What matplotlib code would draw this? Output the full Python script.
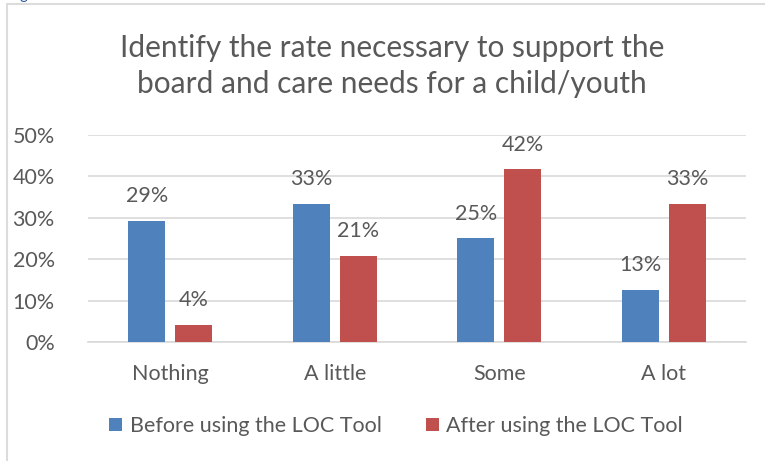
import matplotlib.pyplot as plt
import numpy as np
from matplotlib.patches import Rectangle
from matplotlib.ticker import FuncFormatter

categories = ["Nothing", "A little", "Some", "A lot"]
before = [29.2, 33.3, 25.0, 12.5]
after = [4.2, 20.8, 41.7, 33.3]
series_names = ["Before using the LOC Tool", "After using the LOC Tool"]
title = "Identify the rate necessary to support the\nboard and care needs for a child/youth"

blue = "#4F81BD"
red = "#C0504D"
textGray = "#595959"
gridGray = "#D9D9D9"

plt.rcParams['font.family'] = ['Lato', 'DejaVu Sans']

W, H = 765, 461
fig = plt.figure(figsize=(W / 100, H / 100), dpi=100)

# chart border (only top and left visible in the crop)
fig.add_artist(Rectangle((7 / W, -0.1), 1.2, (H - 4) / H + 0.1, transform=fig.transFigure,
                         fill=False, edgecolor="#DCDCDC", linewidth=1.5))
# descender of the cut-off caption above the chart
fig.text(20 / W, 1 + 1 / H, "g", color="#2F5597", fontsize=11, va="baseline")

ax = fig.add_axes([88 / W, 1 - 342 / H, (746 - 88) / W, (342 - 135) / H])
x = np.arange(len(categories))
bw = 0.225
off = 0.143
b1 = ax.bar(x - off, before, bw, color=blue, label=series_names[0], zorder=3)
b2 = ax.bar(x + off, after, bw, color=red, label=series_names[1], zorder=3)

for bars, vals in [(b1, before), (b2, after)]:
    for rect, v in zip(bars, vals):
        ax.text(rect.get_x() + rect.get_width() / 2, v + 6.0, f"{int(v + 0.5)}%",
                ha="center", va="center", fontsize=15.5, color=textGray)

ax.set_xlim(-0.5, 3.5)
ax.set_ylim(0, 50)
ax.set_yticks(np.arange(0, 51, 10))
ax.yaxis.set_major_formatter(FuncFormatter(lambda v, p: f"{v:.0f}%"))
ax.set_xticks(x, categories)
ax.grid(axis="y", color=gridGray, linewidth=1.2, zorder=0)
for s in ["top", "right", "left"]:
    ax.spines[s].set_visible(False)
ax.spines["bottom"].set_color(gridGray)
ax.spines["bottom"].set_linewidth(1.2)
ax.tick_params(axis="both", length=0, labelsize=15.5, colors=textGray)
ax.tick_params(axis="y", pad=24)
ax.tick_params(axis="x", pad=16)

fig.text(392 / W, 1 - 66 / H, title, ha="center", va="center",
         fontsize=21.5, color=textGray, linespacing=1.33)

fig.legend(handles=[b1, b2], labels=series_names, loc="center", bbox_to_anchor=(396 / W, 1 - 426 / H),
           ncol=2, frameon=False, fontsize=15.5, labelcolor=textGray, handlelength=0.6,
           handleheight=0.6, handletextpad=0.35, columnspacing=2.05)

plt.savefig("out.png", dpi=100)
